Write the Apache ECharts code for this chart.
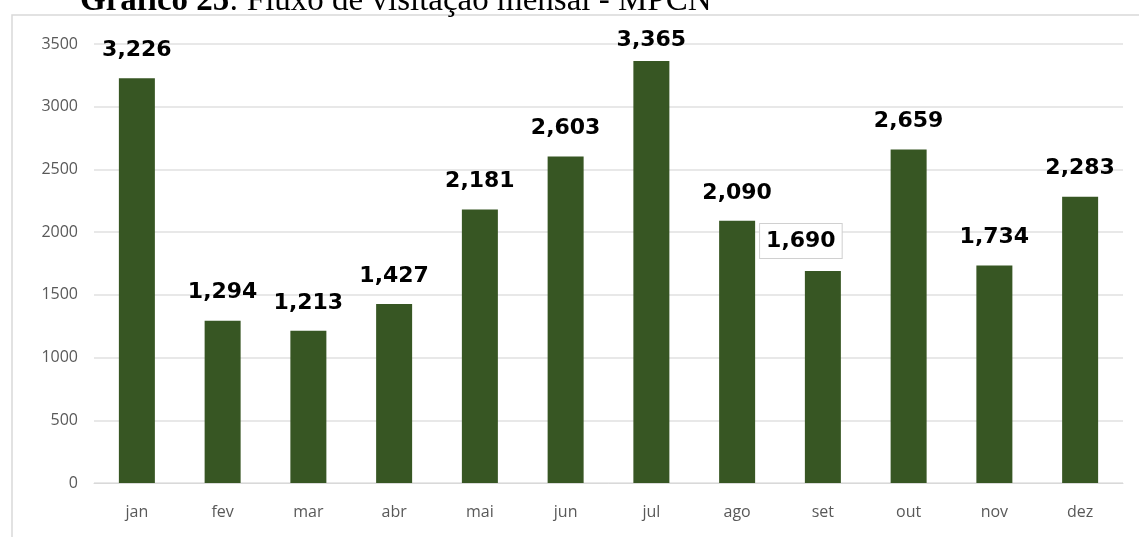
<!DOCTYPE html>
<html>
<head>
<meta charset="utf-8">
<script src="https://cdn.jsdelivr.net/npm/echarts@6/dist/echarts.min.js"></script>
<style>
  html, body { margin: 0; padding: 0; background: #fff; }
  #chart { width: 1139px; height: 537px; }
</style>
</head>
<body>
<div id="chart"></div>
<script>
// dados mensais
const meses = ["jan", "fev", "mar", "abr", "mai", "jun", "jul", "ago", "set", "out", "nov", "dez"];
const visitas = [3226, 1294, 1213, 1427, 2181, 2603, 3365, 2090, 1690, 2659, 1734, 2283];
const yTicks = [0, 500, 1000, 1500, 2000, 2500, 3000, 3500];

const chart = echarts.init(document.getElementById("chart"));

const fmt = v => String(v).replace(/\B(?=(\d{3})+(?!\d))/g, ",");

const option = {
  animation: false,
  title: {
    text: "{b|Gráfico 25}: Fluxo de visitação mensal - MPCN",
    left: 75,
    top: -20,
    textStyle: {
      fontFamily: "Liberation Serif",
      fontSize: 33,
      fontWeight: "normal",
      color: "#000",
      rich: {
        b: { fontFamily: "Liberation Serif", fontSize: 33, fontWeight: "bold", color: "#000" }
      }
    }
  },
  graphic: [
    {
      type: "rect",
      shape: { x: 12, y: 15, width: 1140, height: 540 },
      style: { fill: "#fff", stroke: "#d9d9d9", lineWidth: 1.5 },
      z: -10,
      silent: true
    }
  ],
  grid: { left: 94, right: 16, top: 44, bottom: 54 },
  xAxis: {
    type: "category",
    data: meses,
    axisTick: { show: false },
    axisLine: { lineStyle: { color: "#d9d9d9" } },
    axisLabel: { color: "#595959", fontSize: 16, fontFamily: "Open Sans", margin: 21 }
  },
  yAxis: {
    type: "value",
    min: yTicks[0],
    max: yTicks[yTicks.length - 1],
    interval: 500,
    axisLine: { show: false },
    axisTick: { show: false },
    axisLabel: { color: "#595959", fontSize: 16, fontFamily: "Open Sans", margin: 16, formatter: v => String(v) },
    splitLine: { lineStyle: { color: "#e0e0e0", width: 1.5 } }
  },
  series: [
    {
      type: "bar",
      data: visitas.map((v, i) => {
        const item = { value: v };
        if (meses[i] === "set") {
          item.label = {
            backgroundColor: "#fff",
            borderColor: "#d0d0d0",
            borderWidth: 1,
            padding: [6, 6],
            offset: [-22, 4]
          };
        }
        if (meses[i] === "jul") {
          item.label = { distance: 10 };
        }
        return item;
      }),
      barWidth: 36,
      itemStyle: { color: "#375623" },
      label: {
        show: true,
        position: "top",
        distance: 17,
        formatter: p => fmt(p.value),
        color: "#000",
        fontSize: 22,
        fontWeight: "bold",
        fontFamily: "DejaVu Sans"
      }
    }
  ]
};

chart.setOption(option);
</script>
</body>
</html>
